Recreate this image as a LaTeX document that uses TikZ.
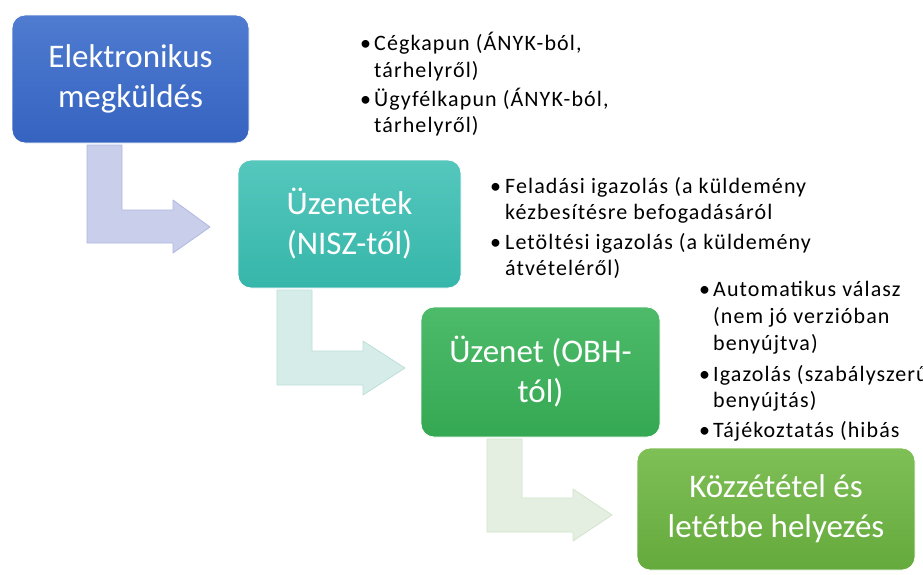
\documentclass[tikz,border=0pt]{standalone}
\usepackage{fontspec}
\setmainfont{Carlito}
\newfontfamily\bulfont[LetterSpace=5]{Carlito}
\definecolor{boxA}{HTML}{3563C0}
\definecolor{boxAt}{HTML}{4F7BD0}
\definecolor{boxB}{HTML}{36B6AA}
\definecolor{boxBt}{HTML}{55C7BD}
\definecolor{boxC}{HTML}{35A853}
\definecolor{boxCt}{HTML}{4DBB6A}
\definecolor{boxD}{HTML}{65AA3D}
\definecolor{boxDt}{HTML}{7EBF56}
\definecolor{arrA}{HTML}{C9CEEB}
\definecolor{arrAe}{HTML}{B0B8E0}
\definecolor{arrB}{HTML}{D6ECE8}
\definecolor{arrBe}{HTML}{BFDFD9}
\definecolor{arrC}{HTML}{E4EFE1}
\definecolor{arrCe}{HTML}{D2E4CD}
\tikzset{
  stepbox/.style={rectangle, rounded corners=13pt, inner sep=0pt, align=center,
    text=white, font=\fontsize{33}{40}\selectfont, draw=white, line width=0.8pt},
  bul/.style={inner sep=0pt, anchor=base west, font=\bulfont\fontsize{22}{27}\selectfont, text=black},
  bendarrow/.style={line width=0.8pt, line join=round},
}
\begin{document}
\begin{tikzpicture}[x=1pt, y=-1pt]
\useasboundingbox (0,0) rectangle (923,574);
\fill[white] (0,0) rectangle (923,574);

% bent arrows
\filldraw[bendarrow, fill=arrA, draw=arrAe] (87,145) -- (122,145) -- (122,210) -- (173,210) -- (173,200) -- (210,227) -- (173,253) -- (173,243) -- (87,243) -- cycle;
\filldraw[bendarrow, fill=arrB, draw=arrBe] (277,290) -- (312,290) -- (312,351) -- (363,351) -- (363,341) -- (405,368) -- (363,395) -- (363,385) -- (277,385) -- cycle;
\filldraw[bendarrow, fill=arrC, draw=arrCe] (487,439) -- (522,439) -- (522,498) -- (573,498) -- (573,489) -- (612,515) -- (573,541) -- (573,532) -- (487,532) -- cycle;

% bullet texts, block 1
\node[bul] (b1a) at (360,50) {•};
\node[bul] (t1a) at (374,50) {Cégkapun (ÁNYK-ból,};
\node[bul] (t1b) at (374,77) {tárhelyről)};
\node[bul] (b1b) at (360,106) {•};
\node[bul] (t1c) at (374,106) {Ügyfélkapun (ÁNYK-ból,};
\node[bul] (t1d) at (374,132) {tárhelyről)};

% block 2
\node[bul] (b2a) at (490,193) {•};
\node[bul] (t2a) at (505,193) {Feladási igazolás (a küldemény};
\node[bul] (t2b) at (505,219) {kézbesítésre befogadásáról};
\node[bul] (b2b) at (490,249) {•};
\node[bul] (t2c) at (505,249) {Letöltési igazolás (a küldemény};
\node[bul] (t2d) at (505,275) {átvételéről)};

% block 3
\node[bul] (b3a) at (699,296) {•};
\node[bul] (t3a) at (713,296) {Automatikus válasz};
\node[bul] (t3b) at (713,323) {(nem jó verzióban};
\node[bul] (t3c) at (713,350) {benyújtva)};
\node[bul] (b3b) at (699,381) {•};
\node[bul] (t3d) at (713,381) {Igazolás (szabályszerű};
\node[bul] (t3e) at (713,407) {benyújtás)};
\node[bul] (b3c) at (699,437) {•};
\node[bul] (t3f) at (713,437) {Tájékoztatás (hibás};

% boxes
\node[stepbox, minimum width=237pt, minimum height=128pt, top color=boxAt, bottom color=boxA] (box1) at (130.5,79) {Elektronikus\\megküldés};
\node[stepbox, minimum width=223pt, minimum height=128pt, top color=boxBt, bottom color=boxB] (box2) at (349.5,224) {Üzenetek\\(NISZ-től)};
\node[stepbox, minimum width=239pt, minimum height=130pt, top color=boxCt, bottom color=boxC] (box3) at (540.5,372) {Üzenet (OBH-\\tól)};
\node[stepbox, minimum width=278pt, minimum height=122pt, top color=boxDt, bottom color=boxD] (box4) at (776,509) {Közzététel és\\letétbe helyezés};
\end{tikzpicture}
\end{document}
